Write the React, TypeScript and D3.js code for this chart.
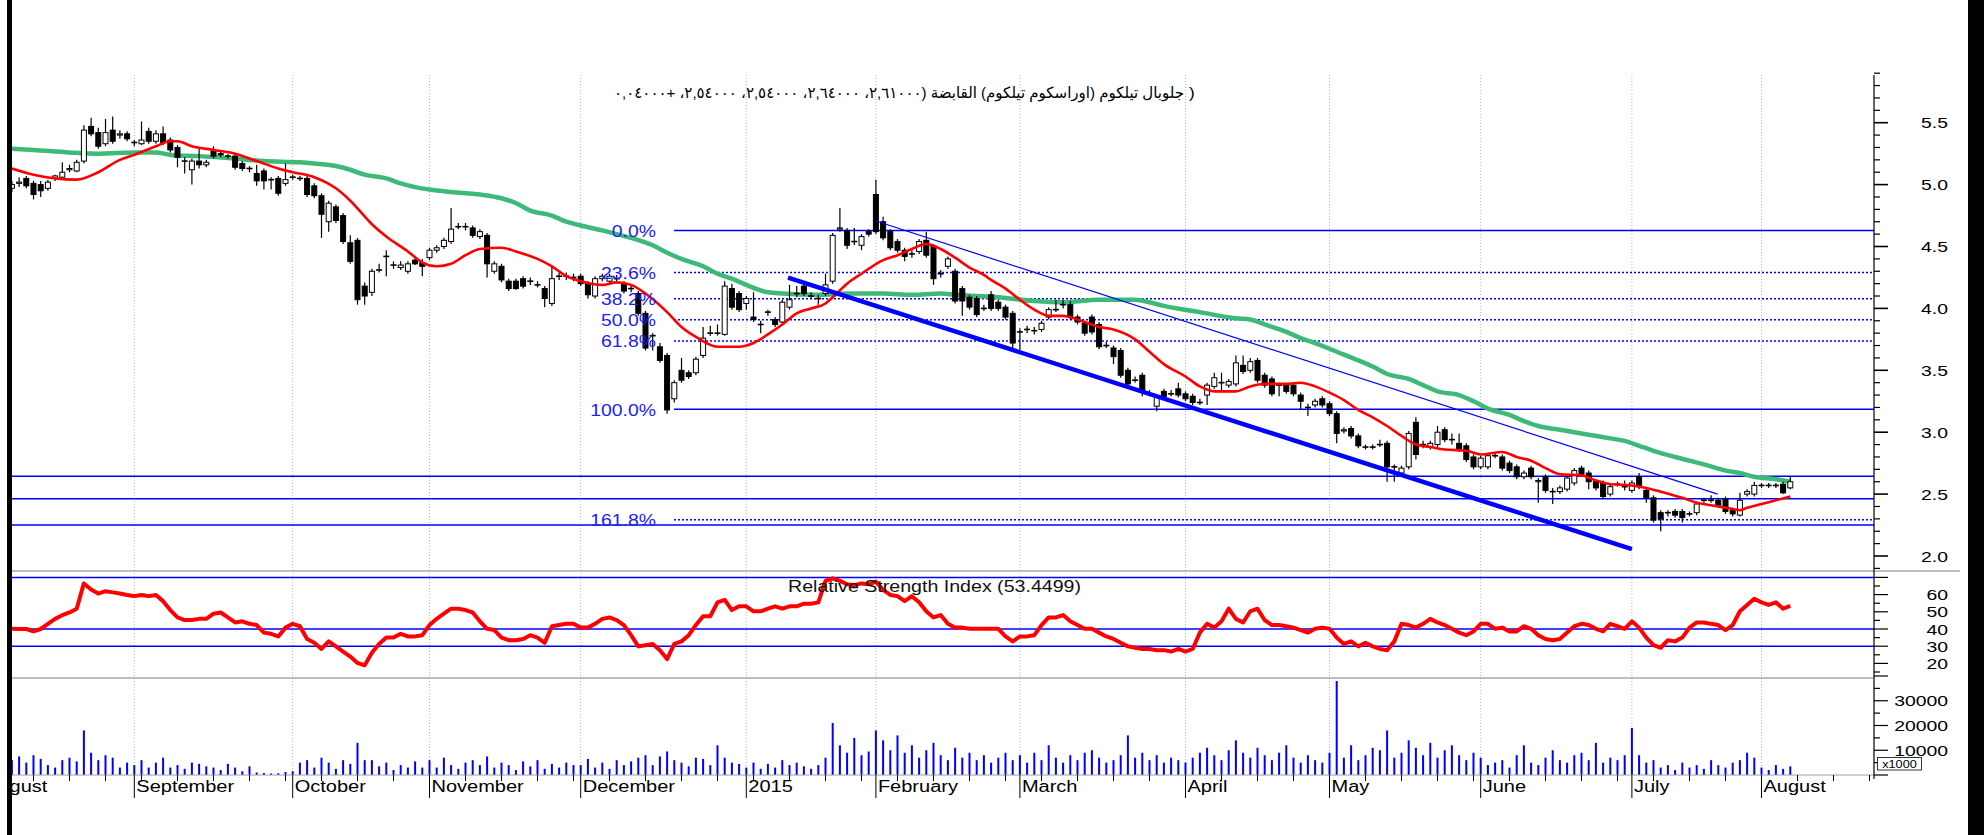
import * as d3 from 'd3';
import React from 'react';

// month axis: label + index of first trading day
const monthLabels = ['August', 'September', 'October', 'November', 'December', '2015', 'February', 'March', 'April', 'May', 'June', 'July', 'August'];
const monthStarts = [-4, 17, 39, 58, 79, 102, 120, 140, 163, 183, 204, 225, 243];

// the closing bracket sits at the far right in the original (left-to-right paragraph)
const titleText = 'جلوبال تيلكوم (اوراسكوم تيلكوم) القابضة (٢,٦١٠٠٠، ٢,٦٤٠٠٠، ٢,٥٤٠٠٠، ٢,٥٤٠٠٠، +٠,٠٤٠٠٠';
const titleClose = ')';
const rsiTitle = 'Relative Strength Index (53.4499)';

// daily candles [open, high, low, close]
type OHLC = [number, number, number, number];
const ohlcAug14: OHLC[] = [
  [4.97, 5.03, 4.94, 5.0], [5.01, 5.06, 4.98, 5.02], [5.05, 5.07, 4.97, 4.99], [5.01, 5.03, 4.88, 4.92], [5.0, 5.03, 4.9, 4.95],
  [4.97, 5.04, 4.95, 5.02], [5.05, 5.08, 5.03, 5.07], [5.06, 5.18, 5.04, 5.1], [5.12, 5.16, 5.1, 5.13], [5.11, 5.2, 5.1, 5.18],
  [5.19, 5.48, 5.17, 5.44], [5.47, 5.54, 5.39, 5.41], [5.42, 5.46, 5.29, 5.31], [5.33, 5.53, 5.31, 5.42], [5.44, 5.55, 5.33, 5.35],
  [5.4, 5.44, 5.37, 5.41], [5.41, 5.43, 5.35, 5.37],
];
const ohlcSep: OHLC[] = [
  [5.34, 5.36, 5.31, 5.34], [5.33, 5.51, 5.32, 5.36], [5.43, 5.46, 5.33, 5.35], [5.35, 5.44, 5.33, 5.41], [5.41, 5.47, 5.32, 5.34],
  [5.36, 5.38, 5.26, 5.28], [5.3, 5.32, 5.14, 5.22], [5.19, 5.22, 5.09, 5.19], [5.12, 5.21, 5.0, 5.19], [5.19, 5.29, 5.13, 5.16],
  [5.16, 5.2, 5.14, 5.18], [5.27, 5.31, 5.21, 5.23], [5.25, 5.27, 5.22, 5.24], [5.23, 5.25, 5.21, 5.23], [5.23, 5.25, 5.12, 5.14],
  [5.17, 5.19, 5.11, 5.13], [5.13, 5.15, 5.1, 5.13], [5.09, 5.16, 4.99, 5.03], [5.11, 5.13, 4.96, 5.03], [5.04, 5.06, 4.96, 5.04],
  [5.05, 5.07, 4.91, 4.93], [5.01, 5.17, 4.99, 5.04],
];
const ohlcOct: OHLC[] = [
  [5.06, 5.08, 5.04, 5.06], [5.05, 5.07, 5.03, 5.05], [5.05, 5.07, 4.9, 4.92], [4.99, 5.01, 4.89, 4.91], [4.91, 4.93, 4.57, 4.76],
  [4.7, 4.87, 4.62, 4.85], [4.82, 4.84, 4.69, 4.71], [4.75, 4.77, 4.52, 4.54], [4.53, 4.59, 4.36, 4.38], [4.55, 4.57, 4.03, 4.07],
  [4.18, 4.21, 4.03, 4.1], [4.13, 4.32, 4.1, 4.3], [4.31, 4.36, 4.29, 4.31], [4.42, 4.47, 4.26, 4.42], [4.35, 4.38, 4.32, 4.35],
  [4.33, 4.38, 4.31, 4.35], [4.3, 4.38, 4.28, 4.36], [4.39, 4.41, 4.35, 4.36], [4.37, 4.4, 4.26, 4.34],
];
const ohlcNov: OHLC[] = [
  [4.41, 4.49, 4.39, 4.47], [4.47, 4.51, 4.45, 4.49], [4.5, 4.57, 4.48, 4.55], [4.54, 4.81, 4.52, 4.64], [4.66, 4.69, 4.64, 4.66],
  [4.66, 4.69, 4.63, 4.66], [4.65, 4.67, 4.57, 4.59], [4.58, 4.64, 4.56, 4.62], [4.59, 4.61, 4.25, 4.36], [4.3, 4.38, 4.28, 4.36],
  [4.34, 4.36, 4.21, 4.23], [4.22, 4.24, 4.14, 4.16], [4.22, 4.24, 4.15, 4.16], [4.24, 4.26, 4.16, 4.18], [4.22, 4.25, 4.19, 4.22],
  [4.19, 4.22, 4.17, 4.19], [4.16, 4.18, 4.01, 4.08], [4.04, 4.35, 4.02, 4.24], [4.26, 4.29, 4.23, 4.26], [4.26, 4.29, 4.23, 4.26],
  [4.25, 4.28, 4.22, 4.25],
];
const ohlcDec: OHLC[] = [
  [4.26, 4.28, 4.18, 4.2], [4.2, 4.22, 4.08, 4.11], [4.1, 4.26, 4.08, 4.24], [4.24, 4.28, 4.22, 4.26], [4.22, 4.28, 4.2, 4.26],
  [4.24, 4.27, 4.22, 4.24], [4.2, 4.22, 4.12, 4.14], [4.16, 4.18, 4.13, 4.16], [4.12, 4.14, 3.94, 3.96], [3.96, 3.98, 3.66, 3.68],
  [3.78, 3.8, 3.66, 3.78], [3.69, 3.72, 3.56, 3.58], [3.62, 3.64, 3.15, 3.18], [3.27, 3.42, 3.24, 3.4], [3.5, 3.6, 3.4, 3.42],
  [3.48, 3.5, 3.43, 3.45], [3.48, 3.61, 3.46, 3.59], [3.62, 3.85, 3.6, 3.76], [3.8, 3.86, 3.78, 3.8], [3.8, 3.87, 3.78, 3.8],
  [3.79, 4.22, 3.78, 4.18], [4.16, 4.2, 3.99, 4.01], [4.12, 4.14, 3.97, 3.99],
];
const ohlcJan: OHLC[] = [
  [4.04, 4.1, 3.99, 4.08], [3.93, 4.13, 3.89, 3.91], [3.87, 3.9, 3.8, 3.87], [3.97, 3.99, 3.94, 3.97], [3.91, 3.93, 3.85, 3.87],
  [3.89, 4.07, 3.87, 4.05], [4.01, 4.19, 3.99, 4.07], [4.12, 4.18, 4.09, 4.12], [4.18, 4.2, 4.1, 4.12], [4.1, 4.13, 4.08, 4.1],
  [4.08, 4.11, 4.03, 4.08], [4.12, 4.28, 4.1, 4.19], [4.22, 4.61, 4.2, 4.59], [4.64, 4.81, 4.62, 4.65], [4.63, 4.65, 4.48, 4.51],
  [4.54, 4.65, 4.51, 4.54], [4.51, 4.6, 4.47, 4.58], [4.62, 4.64, 4.58, 4.6],
];
const ohlcFeb: OHLC[] = [
  [4.92, 5.04, 4.6, 4.62], [4.7, 4.74, 4.55, 4.57], [4.62, 4.64, 4.47, 4.49], [4.54, 4.56, 4.45, 4.47], [4.47, 4.49, 4.38, 4.42],
  [4.44, 4.47, 4.41, 4.44], [4.46, 4.56, 4.44, 4.54], [4.55, 4.62, 4.41, 4.43], [4.5, 4.52, 4.19, 4.24], [4.28, 4.31, 4.25, 4.28],
  [4.34, 4.42, 4.32, 4.4], [4.3, 4.32, 4.04, 4.06], [4.16, 4.18, 3.94, 4.06], [4.09, 4.11, 3.99, 4.01], [4.08, 4.1, 3.93, 3.95],
  [4.0, 4.03, 3.98, 4.0], [4.11, 4.14, 3.98, 4.0], [4.05, 4.07, 3.98, 4.0], [4.01, 4.03, 3.91, 3.93], [3.96, 3.98, 3.68, 3.72],
];
const ohlcMar: OHLC[] = [
  [3.81, 3.84, 3.66, 3.81], [3.83, 3.86, 3.8, 3.83], [3.82, 3.85, 3.79, 3.82], [3.83, 3.9, 3.81, 3.88], [3.93, 4.01, 3.91, 3.99],
  [3.99, 4.07, 3.97, 3.99], [4.03, 4.07, 4.0, 4.03], [4.03, 4.06, 3.91, 3.93], [3.93, 3.95, 3.87, 3.89], [3.88, 3.9, 3.78, 3.8],
  [3.93, 3.95, 3.79, 3.81], [3.87, 3.89, 3.67, 3.69], [3.7, 3.73, 3.68, 3.7], [3.68, 3.7, 3.55, 3.61], [3.66, 3.68, 3.44, 3.46],
  [3.5, 3.52, 3.37, 3.39], [3.42, 3.45, 3.4, 3.42], [3.46, 3.48, 3.29, 3.33], [3.31, 3.34, 3.29, 3.31], [3.21, 3.3, 3.17, 3.28],
  [3.33, 3.35, 3.27, 3.29], [3.31, 3.34, 3.29, 3.31], [3.35, 3.4, 3.28, 3.3],
];
const ohlcApr: OHLC[] = [
  [3.31, 3.33, 3.25, 3.27], [3.29, 3.31, 3.22, 3.24], [3.24, 3.27, 3.22, 3.24], [3.3, 3.4, 3.22, 3.38], [3.37, 3.48, 3.35, 3.44],
  [3.4, 3.48, 3.33, 3.4], [3.38, 3.43, 3.36, 3.41], [3.39, 3.62, 3.37, 3.56], [3.54, 3.62, 3.47, 3.49], [3.5, 3.6, 3.48, 3.57],
  [3.58, 3.6, 3.4, 3.42], [3.46, 3.48, 3.36, 3.38], [3.43, 3.45, 3.29, 3.31], [3.38, 3.4, 3.29, 3.38], [3.38, 3.4, 3.31, 3.33],
  [3.38, 3.4, 3.29, 3.31], [3.3, 3.32, 3.18, 3.25], [3.2, 3.23, 3.13, 3.2], [3.22, 3.27, 3.2, 3.25], [3.27, 3.29, 3.2, 3.22],
];
const ohlcMay: OHLC[] = [
  [3.23, 3.25, 3.13, 3.15], [3.15, 3.17, 2.91, 2.99], [3.01, 3.04, 2.99, 3.02], [3.03, 3.05, 2.95, 2.97], [2.97, 2.99, 2.87, 2.89],
  [2.88, 2.9, 2.86, 2.88], [2.88, 2.9, 2.86, 2.88], [2.9, 2.94, 2.88, 2.9], [2.91, 2.93, 2.6, 2.72], [2.72, 2.74, 2.6, 2.72],
  [2.67, 2.73, 2.65, 2.71], [2.72, 3.01, 2.7, 2.99], [3.08, 3.12, 2.78, 2.82], [2.9, 2.93, 2.87, 2.9], [2.88, 2.93, 2.86, 2.91],
  [2.9, 3.05, 2.88, 3.0], [3.02, 3.04, 2.92, 2.94], [2.94, 2.99, 2.9, 2.94], [2.91, 2.99, 2.84, 2.86], [2.89, 2.91, 2.76, 2.78],
  [2.8, 2.82, 2.7, 2.72],
];
const ohlcJun: OHLC[] = [
  [2.72, 2.81, 2.7, 2.79], [2.72, 2.83, 2.7, 2.81], [2.81, 2.83, 2.79, 2.81], [2.8, 2.82, 2.69, 2.71], [2.75, 2.77, 2.67, 2.69],
  [2.72, 2.74, 2.62, 2.64], [2.64, 2.69, 2.62, 2.67], [2.71, 2.73, 2.62, 2.64], [2.6, 2.63, 2.43, 2.61], [2.64, 2.66, 2.51, 2.53],
  [2.52, 2.55, 2.42, 2.52], [2.52, 2.57, 2.5, 2.55], [2.54, 2.65, 2.52, 2.63], [2.59, 2.71, 2.57, 2.69], [2.71, 2.73, 2.64, 2.66],
  [2.67, 2.69, 2.54, 2.6], [2.6, 2.62, 2.53, 2.55], [2.59, 2.61, 2.46, 2.48], [2.5, 2.58, 2.48, 2.56], [2.58, 2.6, 2.56, 2.58],
  [2.56, 2.61, 2.53, 2.56],
];
const ohlcJul: OHLC[] = [
  [2.53, 2.61, 2.51, 2.59], [2.64, 2.67, 2.54, 2.56], [2.53, 2.55, 2.43, 2.47], [2.47, 2.49, 2.27, 2.29], [2.35, 2.37, 2.2, 2.3],
  [2.35, 2.37, 2.32, 2.35], [2.36, 2.38, 2.31, 2.33], [2.36, 2.38, 2.27, 2.31], [2.34, 2.36, 2.32, 2.34], [2.35, 2.44, 2.33, 2.42],
  [2.45, 2.47, 2.43, 2.45], [2.45, 2.49, 2.43, 2.45], [2.45, 2.47, 2.39, 2.41], [2.46, 2.48, 2.34, 2.36], [2.37, 2.39, 2.32, 2.34],
  [2.33, 2.51, 2.32, 2.45], [2.5, 2.54, 2.48, 2.52], [2.5, 2.6, 2.48, 2.57],
];
const ohlcAug15: OHLC[] = [
  [2.57, 2.59, 2.55, 2.57], [2.57, 2.59, 2.55, 2.57], [2.57, 2.59, 2.55, 2.57], [2.58, 2.6, 2.5, 2.51], [2.55, 2.64, 2.54, 2.6],
];

// moving averages: [day index, value]
const maShort: [number, number][] = [
  [0, 5.13], [3, 5.08], [6, 5.05], [9, 5.04], [12, 5.1], [15, 5.2], [17, 5.24], [20, 5.31], [22, 5.35], [23, 5.35], [25, 5.31],
  [28, 5.28], [31, 5.25], [34, 5.19], [37, 5.13], [39, 5.1], [42, 5.06], [45, 4.97], [47, 4.87], [50, 4.68], [52, 4.58], [55, 4.46],
  [57, 4.37], [59, 4.34], [61, 4.36], [63, 4.43], [65, 4.48], [68, 4.49], [70, 4.46], [73, 4.4], [75, 4.34], [77, 4.26], [79, 4.22],
  [82, 4.19], [84, 4.21], [86, 4.19], [88, 4.12], [91, 3.97], [93, 3.85], [95, 3.77], [98, 3.69], [101, 3.69], [103, 3.72],
  [105, 3.79], [107, 3.87], [109, 3.96], [111, 4.0], [113, 4.04], [114, 4.09], [116, 4.2], [118, 4.28], [121, 4.39], [123, 4.43],
  [125, 4.48], [127, 4.52], [129, 4.48], [131, 4.41], [133, 4.33], [135, 4.27], [136, 4.23], [138, 4.16], [140, 4.07], [142, 3.99],
  [144, 3.94], [146, 3.94], [148, 3.91], [149, 3.89], [151, 3.85], [153, 3.83], [156, 3.75], [158, 3.65], [160, 3.55], [163, 3.45],
  [165, 3.37], [167, 3.33], [170, 3.33], [172, 3.37], [174, 3.39], [177, 3.39], [179, 3.4], [181, 3.37], [183, 3.32], [185, 3.26],
  [187, 3.18], [189, 3.12], [191, 3.05], [193, 2.97], [195, 2.9], [197, 2.88], [199, 2.86], [202, 2.85], [204, 2.82], [207, 2.84],
  [209, 2.8], [211, 2.77], [213, 2.71], [215, 2.66], [218, 2.65], [220, 2.61], [222, 2.58], [225, 2.57], [227, 2.55], [229, 2.52],
  [232, 2.47], [234, 2.43], [236, 2.41], [239, 2.38], [240, 2.37], [241, 2.39], [243, 2.42], [245, 2.45], [247, 2.48],
];
const maLong: [number, number][] = [
  [0, 5.29], [3, 5.28], [8, 5.26], [12, 5.25], [17, 5.26], [20, 5.26], [22, 5.24], [26, 5.23], [31, 5.21], [35, 5.19], [40, 5.18],
  [42, 5.17], [45, 5.15], [47, 5.12], [49, 5.08], [52, 5.05], [54, 5.01], [56, 4.98], [58, 4.96], [61, 4.94], [65, 4.92], [68, 4.89],
  [70, 4.85], [72, 4.79], [75, 4.75], [77, 4.7], [79, 4.67], [82, 4.63], [84, 4.6], [86, 4.57], [89, 4.51], [91, 4.45], [93, 4.4],
  [96, 4.34], [98, 4.28], [100, 4.24], [102, 4.19], [105, 4.13], [107, 4.12], [112, 4.11], [116, 4.12], [121, 4.12], [125, 4.11],
  [129, 4.12], [131, 4.11], [137, 4.09], [142, 4.06], [146, 4.05], [151, 4.07], [156, 4.07], [158, 4.05], [160, 4.02], [165, 3.97],
  [170, 3.92], [172, 3.91], [174, 3.87], [177, 3.81], [179, 3.76], [181, 3.72], [184, 3.65], [187, 3.58], [189, 3.53], [191, 3.47],
  [194, 3.43], [196, 3.38], [198, 3.33], [201, 3.3], [203, 3.25], [205, 3.19], [208, 3.14], [210, 3.09], [212, 3.05], [215, 3.02],
  [217, 3.0], [219, 2.98], [222, 2.95], [224, 2.93], [226, 2.89], [228, 2.85], [231, 2.8], [233, 2.77], [235, 2.74], [238, 2.69],
  [240, 2.67], [242, 2.64], [245, 2.62], [247, 2.6],
];

// RSI, one value per trading day
const rsiValues = [
  40.1, 40, 40, 38.6, 40, 43, 45.9, 48, 49.6, 51.8,
  66.5, 63, 60.6, 62, 61.3, 60.6, 59.8, 59.1, 59.8, 59.1,
  59.8, 56.2, 51, 46.7, 45.2, 45.2, 45.9, 45.9, 48.9, 49.6,
  46.7, 43.8, 44.5, 43, 42.3, 37.9, 37.2, 35.7, 40.8, 43,
  41.6, 34.2, 32, 28.4, 32.8, 29.9, 26.9, 24, 20.3, 18.9,
  26.2, 31.3, 35, 35, 37.2, 35.7, 35.7, 36.4, 42.3, 45.9,
  48.9, 51.8, 51.8, 51, 49.6, 44.5, 40.1, 39.4, 35, 33.5,
  33.5, 34.2, 36.4, 35, 32, 41.6, 42.3, 43, 43, 40.8,
  40.8, 43, 45.9, 46.7, 45.2, 42.3, 36.4, 29.9, 30.6, 31.3,
  27.7, 22.5, 31.3, 32.8, 36.4, 42.3, 47.4, 47.4, 55.5, 56.9,
  51, 53.2, 53.2, 50.3, 50.3, 51.8, 53.2, 51.8, 53.2, 53.2,
  54.7, 54.7, 55.5, 68, 69.5, 68, 66, 65.5, 66.5, 66,
  67.5, 62.8, 59.8, 59.1, 56.2, 59.1, 55.5, 50.3, 46.7, 48.1,
  43, 40.8, 40.8, 40.1, 40.1, 40.1, 40.1, 40.1, 35.7, 32.8,
  35.7, 35.7, 36.4, 42.3, 46.7, 46.7, 48.1, 44.5, 42.3, 40.1,
  40.1, 37.9, 35.7, 34.2, 32, 29.9, 29.1, 28.4, 28.4, 27.7,
  27.7, 26.9, 28.4, 26.9, 28.4, 37.9, 43, 40.8, 44.5, 51.8,
  45.9, 43.8, 50.3, 51.8, 45.2, 42.3, 42.3, 41.6, 40.8, 39.4,
  37.9, 40.1, 40.8, 40.1, 35, 31.3, 32.8, 29.9, 32, 29.9,
  28.4, 27.7, 32.8, 43, 42.3, 40.8, 43, 45.9, 43.8, 42.3,
  40.1, 37.9, 36.4, 38.6, 43, 43, 40.1, 40.8, 38.6, 38.6,
  41.6, 40.1, 36.4, 34.2, 33.5, 34.2, 37.9, 41.6, 43, 42.3,
  40.1, 38.6, 43, 41.6, 40.1, 44.5, 40.8, 35, 30.6, 29.1,
  33.5, 32.8, 35, 40.8, 43.8, 43.8, 43, 42.3, 39.4, 42.3,
  50.3, 54, 57.6, 55.5, 54, 55.5, 51.8, 53.4,
];

// volume in thousands, one value per trading day
const volumes = [
  6000, 7500, 5000, 8000, 6500, 4000, 3000, 6000, 7000, 5500, 18000, 9000, 6000, 8000, 7000, 3000, 5000,
  4000, 6000, 3000, 5000, 7000, 3000, 4000, 2500, 5000, 4500, 3500, 3000, 2000, 4500, 3000, 1500, 3500, 1000, 800, 600, 700, 1200,
  1500, 5000, 6000, 3000, 7000, 5000, 2500, 6000, 4500, 13000, 6000, 6000, 3500, 5000, 2000, 4000, 3000, 5500, 3000,
  6000, 3000, 7000, 4000, 2500, 5000, 6000, 4000, 7500, 3000, 5000, 4000, 2000, 5500, 3500, 6000, 2500, 4500, 3000, 5000, 4000,
  4000, 6500, 3000, 5000, 2500, 6000, 4000, 5500, 7000, 8000, 4000, 7500, 9500, 6000, 5000, 3500, 7000, 6500, 4000, 12000, 7000, 5000, 4500,
  3000, 5000, 2500, 4500, 3000, 6000, 4000, 5000, 3500, 2500, 4000, 7000, 21000, 12000, 9000, 15000, 8000, 9500,
  18000, 14000, 10000, 16000, 9000, 12000, 7000, 10000, 13000, 8000, 6000, 11000, 7000, 9000, 6000, 8000, 5000, 7000, 9000, 6000,
  8000, 5000, 9000, 6000, 12000, 7000, 5000, 8000, 6000, 9000, 10000, 7000, 5000, 6000, 8000, 16000, 7000, 9000, 6000, 8000, 5000, 7000, 6000,
  5000, 7000, 9000, 11000, 8000, 6000, 10000, 14000, 9000, 7000, 11000, 8000, 6000, 9000, 12000, 7000, 5000, 8000, 6000, 5000,
  9000, 38000, 7000, 12000, 6000, 8000, 11000, 10000, 18000, 7000, 9000, 14000, 11000, 8000, 13000, 7000, 10000, 12000, 8000, 6000, 9000,
  7000, 4000, 5000, 6000, 3000, 8000, 12000, 5000, 4000, 7000, 10000, 6000, 5000, 8000, 9000, 6000, 13000, 5000, 7000, 6000, 8000,
  19000, 8000, 5000, 6000, 3000, 4000, 2000, 5000, 3000, 4000, 2500, 6000, 4000, 3000, 5000, 6000, 9000, 7000,
  3000, 2000, 4000, 2500, 3500,
];

// drawn studies
const fibHigh = 4.63;
const fibLow = 3.185;
const fibLevels = [0, 23.6, 38.2, 50, 61.8, 100, 161.8];
const supportLevels = [2.645, 2.462, 2.25];
const rsiGuides = [70, 40, 30];
const trendThick: [number, number][] = [[107.8, 4.248], [225, 2.056]];
const trendThin: [number, number][] = [[120, 4.706], [236.9, 2.5]];

const priceTicks = [2, 2.5, 3, 3.5, 4, 4.5, 5, 5.5];
const rsiTicks = [20, 30, 40, 50, 60];
const volumeTicks = [10000, 20000, 30000];

const W = 1984;
const H = 835;
const LEFT = 12;
const AXIS_X = 1874;
const PRICE_TOP = 75;
const PRICE_BOTTOM = 571;
const RSI_BOTTOM = 678;
const VOL_BOTTOM = 775;
const FONT = "'Liberation Sans', Arial, 'DejaVu Sans', sans-serif";
const BLUE = '#0000ff';

function SText({ x, y, anchor = 'start', size = 15.5, fill = '#000', sx = 1.25, children }: any) {
  return (
    <text
      transform={`translate(${x},${y}) scale(${sx},1)`}
      textAnchor={anchor}
      fontSize={size}
      fill={fill}
      fontFamily={FONT}
    >
      {children}
    </text>
  );
}

export default function App() {
  const ohlc = [
    ...ohlcAug14, ...ohlcSep, ...ohlcOct, ...ohlcNov, ...ohlcDec, ...ohlcJan, ...ohlcFeb,
    ...ohlcMar, ...ohlcApr, ...ohlcMay, ...ohlcJun, ...ohlcJul, ...ohlcAug15,
  ];

  const x = d3.scaleLinear().domain([0, 247]).range([11.9, 11.9 + 7.2 * 247]);
  const yP = d3.scaleLinear().domain([2, 5.5]).range([556, 122.7]);
  const yR = d3.scaleLinear().domain([40, 70]).range([629, 577.4]);
  const yV = d3.scaleLinear().domain([0, 40000]).range([VOL_BOTTOM, 676]);

  const maLine = d3
    .line<[number, number]>()
    .x((d) => x(d[0]))
    .y((d) => yP(d[1]))
    .curve(d3.curveMonotoneX);
  const rsiLine = d3
    .line<number>()
    .x((_, i) => x(i))
    .y((d) => yR(d));

  const minorPrice = d3.range(19, 60).map((v) => v / 10);
  const rsiMinor = d3.range(15, 75, 5);
  const volMinor = d3.range(0, 40001, 5000);
  const weekTicks = d3.range(3, 260, 5).filter((i) => !monthStarts.includes(i));
  const half = 2.5;

  return (
    <svg width={W} height={H} style={{ position: 'absolute', left: 0, top: 0, background: '#fff' }}>
      <defs>
        <clipPath id="clipPrice">
          <rect x={LEFT} y={PRICE_TOP} width={AXIS_X - LEFT} height={PRICE_BOTTOM - PRICE_TOP} />
        </clipPath>
        <clipPath id="clipRsi">
          <rect x={LEFT} y={PRICE_BOTTOM} width={AXIS_X - LEFT} height={RSI_BOTTOM - PRICE_BOTTOM} />
        </clipPath>
        <clipPath id="clipAll">
          <rect x={LEFT} y={0} width={AXIS_X - LEFT} height={H} />
        </clipPath>
      </defs>
      <rect width={W} height={H} fill="#fff" />

      {/* month grid */}
      <g clipPath="url(#clipAll)">
        {monthStarts.map((m) => (
          <line key={m} x1={x(m)} x2={x(m)} y1={PRICE_TOP} y2={VOL_BOTTOM} stroke="#b8b8b8" strokeDasharray="1,2" />
        ))}
      </g>

      {/* title */}
      <text x={614} y={98} textLength={570} lengthAdjust="spacingAndGlyphs" fontSize={15.5} fontFamily={FONT} fill="#000">
        {titleText}
      </text>
      <SText x={1189} y={98} size={15.5} sx={1.1}>
        {titleClose}
      </SText>

      {/* price panel */}
      <g clipPath="url(#clipPrice)">
        {fibLevels.map((lv) => {
          const p = fibHigh - ((fibHigh - fibLow) * lv) / 100;
          const solid = lv === 0 || lv === 100;
          return (
            <line key={lv} x1={674} x2={AXIS_X} y1={yP(p)} y2={yP(p)} stroke={BLUE} strokeWidth={1.5} strokeDasharray={solid ? undefined : '2,2'} />
          );
        })}
        {supportLevels.map((p) => (
          <line key={p} x1={LEFT} x2={AXIS_X} y1={yP(p)} y2={yP(p)} stroke={BLUE} strokeWidth={1.5} />
        ))}
        <path d={maLine(maLong) ?? ''} fill="none" stroke="#3dba78" strokeWidth={4.5} />
        {ohlc.map((d, i) => {
          const [o, h, l, c] = d;
          const cx = x(i);
          const up = c > o;
          const top = yP(Math.max(o, c));
          const bot = yP(Math.min(o, c));
          return (
            <g key={i}>
              <line x1={cx} x2={cx} y1={yP(h)} y2={yP(l)} stroke="#000" strokeWidth={1.2} />
              {Math.abs(o - c) < 0.005 ? (
                <line x1={cx - half - 0.5} x2={cx + half + 0.5} y1={top} y2={top} stroke="#000" strokeWidth={1.6} />
              ) : (
                <rect x={cx - half} y={top} width={half * 2} height={Math.max(bot - top, 1)} fill={up ? '#fff' : '#000'} stroke="#000" strokeWidth={1} />
              )}
            </g>
          );
        })}
        <path d={maLine(maShort) ?? ''} fill="none" stroke="#ff0000" strokeWidth={2.6} />
        <line x1={x(trendThick[0][0])} y1={yP(trendThick[0][1])} x2={x(trendThick[1][0])} y2={yP(trendThick[1][1])} stroke={BLUE} strokeWidth={4.5} />
        <line x1={x(trendThin[0][0])} y1={yP(trendThin[0][1])} x2={x(trendThin[1][0])} y2={yP(trendThin[1][1])} stroke={BLUE} strokeWidth={1.2} />
      </g>
      {fibLevels.map((lv) => {
        const p = fibHigh - ((fibHigh - fibLow) * lv) / 100;
        return (
          <SText key={lv} x={656} y={yP(p) + 6.5} anchor="end" size={17} sx={1.14} fill="#2020ff">
            {lv.toFixed(1)}%
          </SText>
        );
      })}

      {/* RSI panel */}
      <line x1={LEFT} x2={1960} y1={PRICE_BOTTOM} y2={PRICE_BOTTOM} stroke="#808080" strokeWidth={1.2} />
      <g clipPath="url(#clipRsi)">
        {rsiGuides.map((v) => (
          <line key={v} x1={LEFT} x2={AXIS_X} y1={yR(v)} y2={yR(v)} stroke={BLUE} strokeWidth={1.5} />
        ))}
        <path d={rsiLine(rsiValues) ?? ''} fill="none" stroke="#ff0000" strokeWidth={4} strokeLinejoin="round" />
      </g>
      <text x={788} y={592} textLength={293} lengthAdjust="spacingAndGlyphs" fontSize={16} fontFamily={FONT} fill="#111">
        {rsiTitle}
      </text>
      <line x1={LEFT} x2={AXIS_X} y1={RSI_BOTTOM} y2={RSI_BOTTOM} stroke="#808080" strokeWidth={1.2} />

      {/* volume panel */}
      <g clipPath="url(#clipAll)">
        {volumes.map((v, i) => (
          <rect key={i} x={x(i) - 1} y={yV(v)} width={2} height={VOL_BOTTOM - yV(v)} fill={BLUE} />
        ))}
      </g>
      <line x1={LEFT} x2={AXIS_X} y1={VOL_BOTTOM} y2={VOL_BOTTOM} stroke="#a0a0a0" />

      {/* time axis */}
      <g clipPath="url(#clipAll)">
        {weekTicks.map((i) => (
          <line key={i} x1={x(i)} x2={x(i)} y1={VOL_BOTTOM} y2={VOL_BOTTOM + 6} stroke="#000" />
        ))}
        {monthStarts.map((m, k) => (
          <g key={m}>
            <line x1={x(m)} x2={x(m)} y1={VOL_BOTTOM} y2={798} stroke="#000" />
            <SText x={x(m) + 2} y={792} size={16}>
              {monthLabels[k]}
            </SText>
          </g>
        ))}
      </g>

      {/* right axis */}
      <line x1={AXIS_X} x2={AXIS_X} y1={PRICE_TOP} y2={VOL_BOTTOM + 4} stroke="#000" strokeWidth={1.2} />
      {minorPrice.map((v) => {
        const major = Math.round(v * 10) % 5 === 0;
        return <line key={v} x1={AXIS_X} x2={AXIS_X + (major ? 14 : 6)} y1={yP(v)} y2={yP(v)} stroke="#000" strokeWidth={major ? 1.6 : 1.2} />;
      })}
      {priceTicks.map((v) => (
        <SText key={v} x={1948} y={yP(v) + 5.5} anchor="end">
          {v.toFixed(1)}
        </SText>
      ))}
      {rsiMinor.map((v) => (
        <line key={v} x1={AXIS_X} x2={AXIS_X + (v % 10 === 0 ? 14 : 6)} y1={yR(v)} y2={yR(v)} stroke="#000" strokeWidth={1.2} />
      ))}
      {rsiTicks.map((v) => (
        <SText key={v} x={1948} y={yR(v) + 5.5} anchor="end">
          {v}
        </SText>
      ))}
      {volMinor.map((v) => (
        <line key={v} x1={AXIS_X} x2={AXIS_X + (v % 10000 === 0 ? 14 : 6)} y1={yV(v)} y2={yV(v)} stroke="#000" strokeWidth={1.2} />
      ))}
      {volumeTicks.map((v) => (
        <SText key={v} x={1948} y={yV(v) + 5.5} anchor="end">
          {v}
        </SText>
      ))}
      <rect x={1877.5} y={757.5} width={44} height={12.5} fill="#fff" stroke="#000" strokeWidth={0.8} />
      <SText x={1899.5} y={768} anchor="middle" size={11} sx={1.15}>
        x1000
      </SText>

      {/* frame bars */}
      <rect x={7} y={0} width={5} height={H} fill="#000" />
      <rect x={1968} y={0} width={16} height={H} fill="#000" />
    </svg>
  );
}
